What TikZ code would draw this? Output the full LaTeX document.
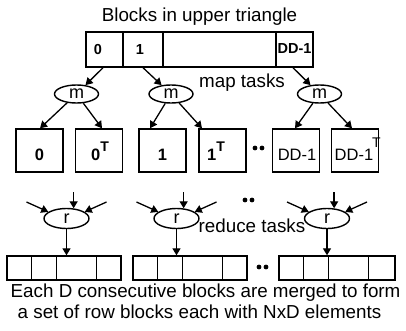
\documentclass[tikz,border=0pt]{standalone}
\usepackage{fontspec}
\setmainfont{Liberation Sans}
\usetikzlibrary{shapes.geometric,arrows.meta,calc}
% raised transpose mark after a block label
\newcommand\supT[1][9pt]{\raisebox{#1}{\fontsize{14}{14}\selectfont T}}

\begin{document}
\begin{tikzpicture}[x=1pt,y=-1pt,line width=1.4pt,
  arr/.style={-{Triangle[length=7pt,width=8pt]},line width=1.3pt},
  cell/.style={draw,rectangle,minimum height=35pt,inner sep=0pt},
  blk/.style={draw,rectangle,minimum width=47pt,minimum height=43pt,inner sep=0pt},
  grp/.style={draw,rectangle,minimum height=24pt,inner sep=0pt},
  task/.style={draw,ellipse,minimum width=44pt,minimum height=18pt,inner sep=0pt,
    font=\fontsize{18}{18}\selectfont},
  rtask/.style={task,minimum width=45pt,minimum height=20pt},
  txt/.style={inner sep=0pt,anchor=base,font=\fontsize{18.8}{22}\selectfont},
  barlbl/.style={inner sep=0pt,anchor=base,font=\bfseries\fontsize{14.5}{15}\selectfont},
  blklbl/.style={inner sep=0pt,anchor=base,font=\fontsize{16.5}{17}\selectfont},
  boldlbl/.style={blklbl,font=\bfseries\fontsize{16.5}{17}\selectfont},
  dot/.style={radius=2.4pt}]
\useasboundingbox (0,0) rectangle (406,331);

% title and the upper-triangle bar
\node[txt] (title) at (199.5,22) {Blocks in upper triangle};
\node[cell,minimum width=37pt]  (c0) at (104.5,49.5) {};
\node[cell,minimum width=40pt]  (c1) at (143,49.5) {};
\node[cell,minimum width=113pt] (cm) at (219.5,49.5) {};
\node[cell,minimum width=37pt]  (cD) at (294.5,49.5) {};
\node[barlbl] (l0) at (98,55) {0};
\node[barlbl] (l1) at (140,55) {1};
\node[barlbl] (lD) at (294.5,54) {DD-1};

% map tasks
\node[task] (m1) at (76.5,94) {m};
\node[task] (m2) at (171,94) {m};
\node[task] (m3) at (319.5,94) {m};
\node[txt] (maplbl) at (242,88) {map tasks};
\draw[arr] ([xshift=-1.5pt]c0.south) -- (m1);
\draw[arr] (c1.south) -- (m2);
\draw[arr] ([xshift=-1.5pt]cD.south) -- (m3);

% blocks and their transposes
\node[blk] (b1) at (39.5,150.5) {};
\node[blk] (b2) at (99,150.5) {};
\node[blk] (b3) at (162.5,150.5) {};
\node[blk] (b4) at (222.5,150.5) {};
\node[blk] (b5) at (296,150.5) {};
\node[blk] (b6) at (355,150.5) {};
\node[boldlbl] (t1) at (39.5,160) {0};
\node[boldlbl] (t2) at (100,160) {0\supT};
\node[boldlbl] (t3) at (162.5,160) {1};
\node[boldlbl] (t4) at (216,160) {1\supT};
\node[blklbl] (t5) at (297,160) {DD-1};
\node[blklbl,anchor=base west] (t6) at (334,160) {DD-1\kern-1pt\supT[13pt]};
\fill (255,148) circle[dot] (262,148) circle[dot];

\draw[arr] (m1) -- ([xshift=0.5pt]b1.north);
\draw[arr] (m1) -- ([xshift=3pt]b2.north);
\draw[arr] (m2) -- ([xshift=-12.5pt]b3.north);
\draw[arr] (m2) -- ([xshift=-20.5pt]b4.north);
\draw[arr] (m3) -- ([xshift=-1pt]b5.north);
\draw[arr] (m3) -- ([xshift=-3pt]b6.north);

% reduce tasks with their incoming shuffles
\node[rtask] (r1) at (66.5,218.5) {r};
\node[rtask] (r2) at (176.5,218.5) {r};
\node[rtask] (r3) at (327,218.5) {r};
\node[txt,anchor=base west] (redlbl) at (198,232) {reduce tasks};
\fill (245,200) circle[dot] (252,200) circle[dot];
\foreach \r in {r1,r2,r3}{
  \coordinate (\r l) at ($(\r)+(-40,-16.5)$);
  \coordinate (\r r) at ($(\r)+(40,-16.5)$);
  \coordinate (\r v) at ($(\r.55)+(0,-16)$);
  \draw[arr] (\r l) -- (\r.160);
  \draw[arr] (\r r) -- (\r.20);
  \draw[arr] (\r v) -- (\r.55);
}

% merged row blocks
\node[grp,minimum width=114pt] (g1) at (64,268) {};
\node[grp,minimum width=114pt] (g2) at (190,268) {};
\node[grp,minimum width=116pt] (g3) at (337,268) {};
\foreach \g in {g1,g2,g3}{
  \foreach \d in {25,50,90}{
    \draw ([xshift=\d pt]\g.north west) -- ([xshift=\d pt]\g.south west);
  }
}
\fill (259,267) circle[dot] (266,267) circle[dot];
\draw[arr] (r1) -- (r1 |- g1.north);
\draw[arr] (r2) -- (r2 |- g2.north);
\draw[arr] (r3) -- (r3 |- g3.north);

% caption
\node[txt,anchor=base west] (cap1) at (10,297) {Each D consecutive blocks are merged to form};
\node[txt,anchor=base west] (cap2) at (17,318) {a set of row blocks each with NxD elements};
\end{tikzpicture}
\end{document}
